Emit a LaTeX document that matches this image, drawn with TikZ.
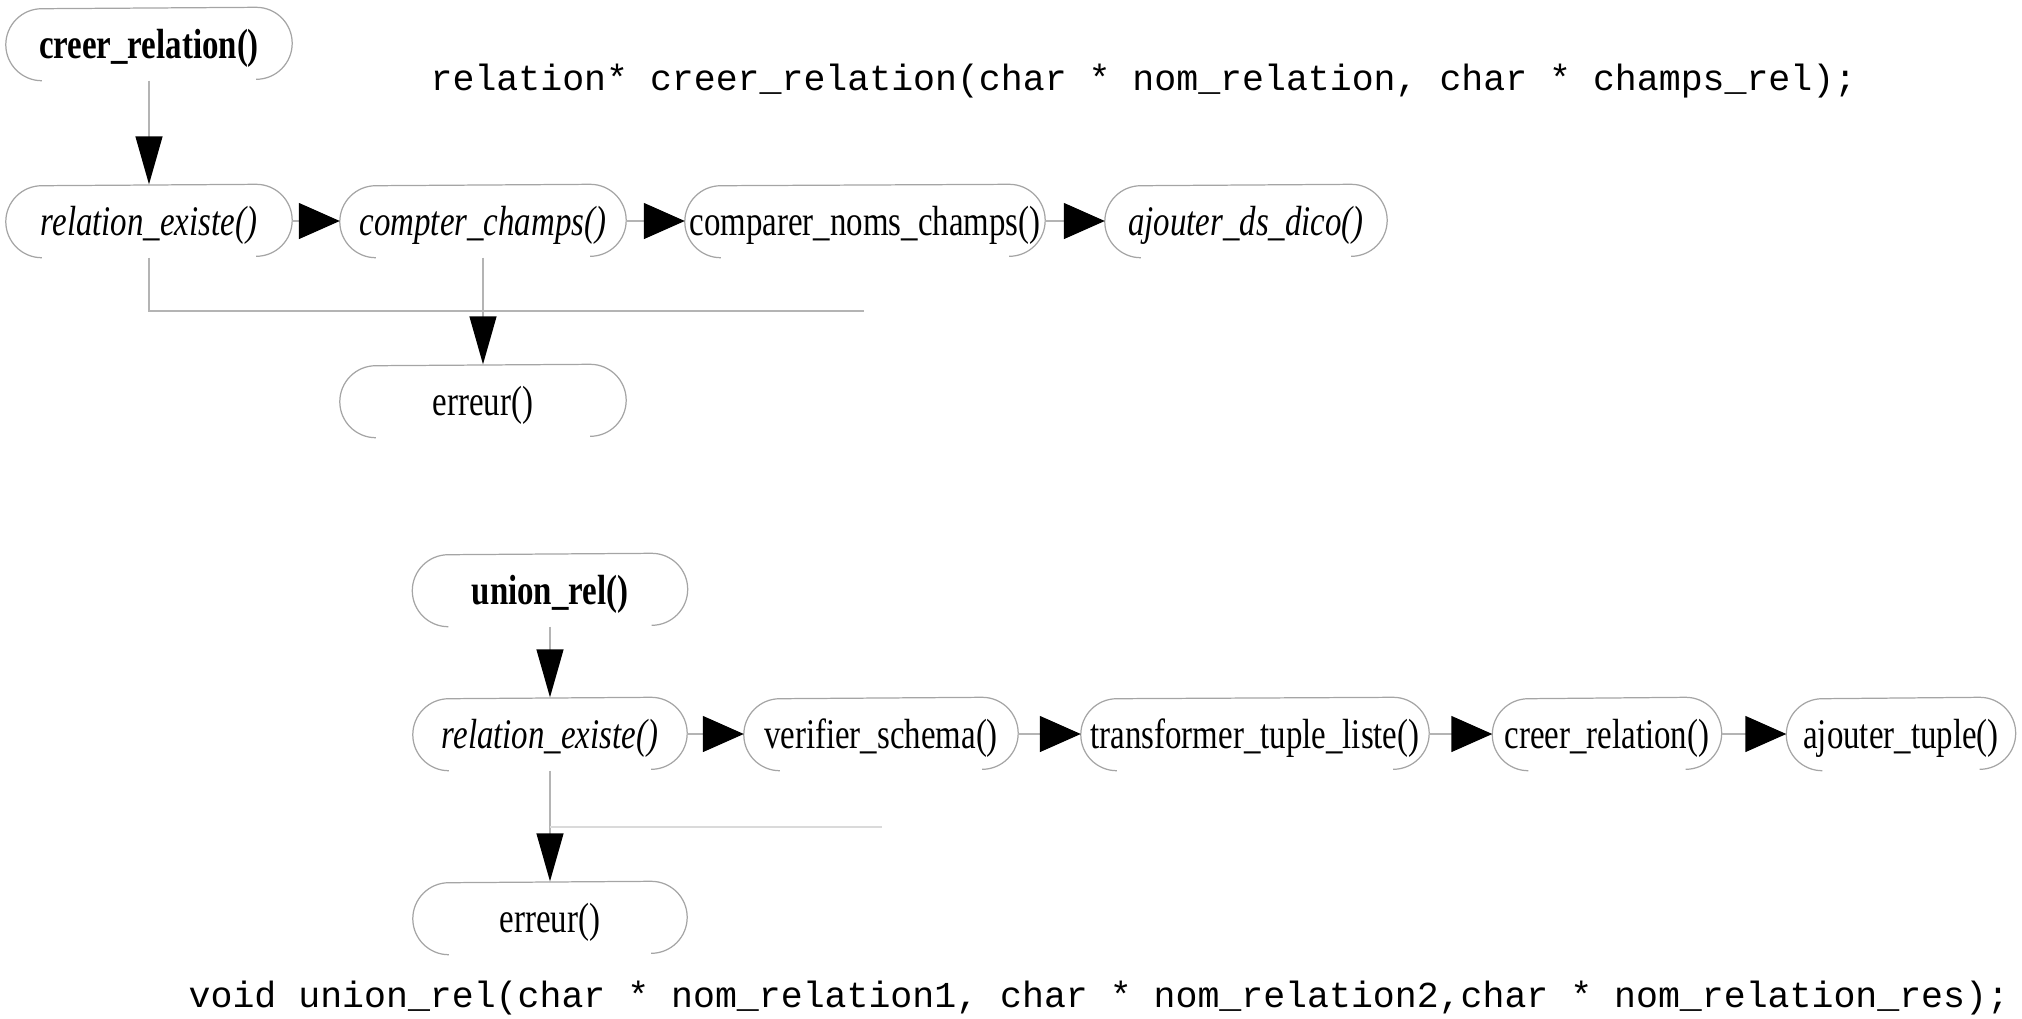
\documentclass[tikz,border=0pt]{standalone}
\usepackage{fontspec}
\usepackage{tikz}
\setmainfont{Liberation Serif}
\setmonofont{Liberation Mono}
\newfontfamily\funcfont[FakeStretch=0.78]{Liberation Serif}
\definecolor{outlinegray}{RGB}{165, 165, 165}
\definecolor{linegray}{RGB}{180, 180, 180}
\definecolor{palegray}{RGB}{218, 218, 218}
\usetikzlibrary{arrows.meta, positioning}

\begin{document}
\begin{tikzpicture}[
    func/.style={rectangle, minimum width=#1, minimum height=0.72cm, inner sep=0pt,
        text height=0.37cm, text depth=0.09cm,
        font=\funcfont\fontsize{12}{14}\selectfont,
        append after command={\pgfextra{
            \draw[outlinegray, line width=0.35pt]
                ([xshift=0.36cm]\tikzlastnode.south west)
                arc[start angle=270, end angle=90, radius=0.36cm]
                -- ([xshift=-0.36cm]\tikzlastnode.north east)
                arc[start angle=90, end angle=-90, radius=0.36cm];
        }}},
    sig/.style={anchor=base west, inner sep=0pt, font=\ttfamily\fontsize{10.4}{12}\selectfont},
    vflow/.style={-{Triangle[length=0.48cm, width=0.27cm, color=black]}, linegray, line width=0.4pt},
    hflow/.style={-{Triangle[length=0.41cm, width=0.36cm, color=black]}, linegray, line width=0.4pt},
    errline/.style={linegray, line width=0.4pt}
]
    \useasboundingbox (0, 0) rectangle (20.22, -10.18);

    % creer_relation
    \node[func=2.85cm, font=\funcfont\fontsize{12}{14}\selectfont\bfseries] (creerrel) at (1.49, -0.44) {creer\_relation()};
    \node[sig] (sigcreer) at (4.30, -0.90) {relation* creer\_relation(char * nom\_relation, char * champs\_rel);};

    \node[func=2.85cm, font=\funcfont\fontsize{12}{14}\selectfont\itshape] (rexist1) at (1.49, -2.21) {relation\_existe()};
    \node[func=2.85cm, font=\funcfont\fontsize{12}{14}\selectfont\itshape] (compter) at (4.83, -2.21) {compter\_champs()};
    \node[func=3.59cm] (comparer) at (8.65, -2.21) {comparer\_noms\_champs()};
    \node[func=2.81cm, font=\funcfont\fontsize{12}{14}\selectfont\itshape] (ajoutdico) at (12.46, -2.21) {ajouter\_ds\_dico()};
    \node[func=2.85cm] (erreur1) at (4.83, -4.01) {erreur()};
    \coordinate (errend1) at (8.64, -3.11);

    \draw[vflow] (creerrel) -- (rexist1);
    \draw[hflow] (rexist1) -- (compter);
    \draw[hflow] (compter) -- (comparer);
    \draw[hflow] (comparer) -- (ajoutdico);
    \draw[errline] (rexist1.south) |- (errend1);
    \draw[vflow] (compter) -- (erreur1);

    % union_rel
    \node[func=2.74cm, font=\funcfont\fontsize{12}{14}\selectfont\bfseries] (unionrel) at (5.50, -5.90) {union\_rel()};

    \node[func=2.73cm, font=\funcfont\fontsize{12}{14}\selectfont\itshape] (rexist2) at (5.50, -7.34) {relation\_existe()};
    \node[func=2.73cm] (verifier) at (8.81, -7.34) {verifier\_schema()};
    \node[func=3.47cm] (transf) at (12.55, -7.34) {transformer\_tuple\_liste()};
    \node[func=2.28cm] (creerrel2) at (16.07, -7.34) {creer\_relation()};
    \node[func=2.28cm] (ajouttuple) at (19.01, -7.34) {ajouter\_tuple()};
    \node[func=2.73cm] (erreur2) at (5.50, -9.18) {erreur()};
    \coordinate (errend2) at (8.82, -8.27);

    \draw[vflow] (unionrel) -- (rexist2);
    \draw[hflow] (rexist2) -- (verifier);
    \draw[hflow] (verifier) -- (transf);
    \draw[hflow] (transf) -- (creerrel2);
    \draw[hflow] (creerrel2) -- (ajouttuple);
    \draw[vflow] (rexist2) -- (erreur2);
    \draw[palegray, line width=0.5pt] (rexist2.south |- errend2) -- (errend2);

    \node[sig] (sigunion) at (1.88, -10.07) {void union\_rel(char * nom\_relation1, char * nom\_relation2,char * nom\_relation\_res);};
\end{tikzpicture}
\end{document}
